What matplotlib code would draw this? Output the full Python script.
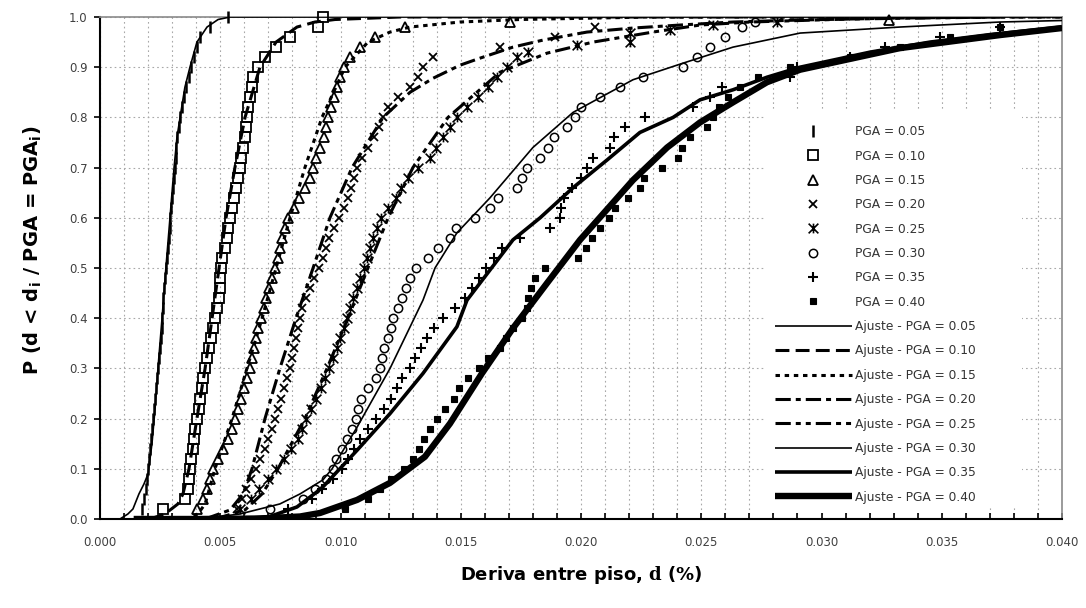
import matplotlib
matplotlib.use("Agg")
import matplotlib.pyplot as plt
from matplotlib.path import Path
from matplotlib.patches import Rectangle
from matplotlib.ticker import MultipleLocator, FormatStrFormatter

plt.rcParams['font.family'] = ['DejaVu Sans']
plt.rcParams['mathtext.fontset'] = 'custom'
plt.rcParams['mathtext.rm'] = 'DejaVu Sans:bold'
plt.rcParams['mathtext.bf'] = 'DejaVu Serif:bold'
plt.rcParams['lines.scale_dashes'] = False

# ---------------------------------------------------------------- data
# cumulative probability levels shared by the empirical samples
Y_STEP = [0.02, 0.04, 0.06, 0.08, 0.10, 0.12, 0.14, 0.16, 0.18, 0.20,
          0.22, 0.24, 0.26, 0.28, 0.30, 0.32, 0.34, 0.36, 0.38, 0.40,
          0.42, 0.44, 0.46, 0.48, 0.50, 0.52, 0.54, 0.56, 0.58, 0.60,
          0.62, 0.64, 0.66, 0.68, 0.70, 0.72, 0.74, 0.76, 0.78, 0.80,
          0.82, 0.84, 0.86, 0.88, 0.90, 0.92, 0.94, 0.96, 0.98, 1.00]

pga_labels = ["0.05", "0.10", "0.15", "0.20", "0.25", "0.30", "0.35", "0.40"]

# empirical drift values (%) for each PGA level
pga05_x = [0.00175, 0.00183, 0.00191, 0.00195, 0.00200, 0.00204, 0.00208, 0.00210, 0.00216, 0.00220,
           0.00225, 0.00229, 0.00233, 0.00237, 0.00241, 0.00245, 0.00249, 0.00254, 0.00256, 0.00258,
           0.00260, 0.00262, 0.00266, 0.00270, 0.00274, 0.00279, 0.00283, 0.00285, 0.00289, 0.00291,
           0.00295, 0.00299, 0.00304, 0.00306, 0.00310, 0.00314, 0.00318, 0.00322, 0.00328, 0.00333,
           0.00341, 0.00349, 0.00358, 0.00370, 0.00378, 0.00391, 0.00403, 0.00416, 0.00457, 0.00532]
pga05_y = Y_STEP

pga10_x = [0.00262, 0.00353, 0.00366, 0.00370, 0.00374, 0.00378, 0.00385, 0.00391, 0.00397, 0.00403,
           0.00410, 0.00416, 0.00424, 0.00430, 0.00437, 0.00445, 0.00453, 0.00462, 0.00470, 0.00478,
           0.00486, 0.00493, 0.00497, 0.00501, 0.00505, 0.00509, 0.00518, 0.00526, 0.00532, 0.00541,
           0.00549, 0.00557, 0.00565, 0.00574, 0.00582, 0.00588, 0.00595, 0.00601, 0.00607, 0.00611,
           0.00617, 0.00624, 0.00630, 0.00636, 0.00657, 0.00686, 0.00732, 0.00790, 0.00906, 0.00927]
pga10_y = Y_STEP

pga15_x = [0.00403, 0.00428, 0.00445, 0.00457, 0.00470, 0.00491, 0.00511, 0.00532, 0.00549, 0.00561,
           0.00574, 0.00586, 0.00599, 0.00611, 0.00624, 0.00632, 0.00640, 0.00649, 0.00657, 0.00669,
           0.00682, 0.00690, 0.00703, 0.00715, 0.00728, 0.00740, 0.00748, 0.00757, 0.00769, 0.00782,
           0.00807, 0.00827, 0.00852, 0.00873, 0.00886, 0.00898, 0.00915, 0.00931, 0.00940, 0.00948,
           0.00960, 0.00973, 0.00985, 0.00998, 0.01015, 0.01040, 0.01081, 0.01143, 0.01268,
           0.01705, 0.03281]
pga15_y = Y_STEP[:49] + [0.990, 0.995]

pga20_x = [0.00570, 0.00590, 0.00607, 0.00628, 0.00649, 0.00665, 0.00686, 0.00699, 0.00715, 0.00728,
           0.00740, 0.00753, 0.00765, 0.00778, 0.00790, 0.00798, 0.00807, 0.00815, 0.00823, 0.00832,
           0.00840, 0.00857, 0.00873, 0.00890, 0.00911, 0.00927, 0.00940, 0.00952, 0.00973, 0.00994,
           0.01015, 0.01031, 0.01044, 0.01056, 0.01069, 0.01089, 0.01114, 0.01139, 0.01160, 0.01177,
           0.01198, 0.01239, 0.01289, 0.01322, 0.01343, 0.01385, 0.01663, 0.01892, 0.02058]
pga20_y = Y_STEP[:49]

pga25_x = [0.00582, 0.00628, 0.00661, 0.00699, 0.00732, 0.00765, 0.00794, 0.00823, 0.00840, 0.00857,
           0.00877, 0.00898, 0.00919, 0.00936, 0.00952, 0.00969, 0.00985, 0.00998, 0.01015, 0.01027,
           0.01040, 0.01052, 0.01069, 0.01081, 0.01098, 0.01110, 0.01123, 0.01135, 0.01152, 0.01168,
           0.01198, 0.01231, 0.01252, 0.01281, 0.01322, 0.01372, 0.01397, 0.01426, 0.01455, 0.01484,
           0.01526, 0.01572, 0.01613, 0.01651, 0.01692, 0.01734,
           0.01780, 0.01983, 0.02204, 0.02204, 0.02370, 0.02549, 0.02815]
pga25_y = Y_STEP[:46] + [0.930, 0.944, 0.950, 0.968, 0.974, 0.984, 0.990]

pga30_x = [0.00707, 0.00844, 0.00894, 0.00940, 0.00969, 0.00981, 0.01006, 0.01027, 0.01048, 0.01064,
           0.01073, 0.01085, 0.01114, 0.01148, 0.01164, 0.01173, 0.01181, 0.01198, 0.01210, 0.01218,
           0.01239, 0.01256, 0.01272, 0.01289, 0.01314, 0.01364, 0.01405, 0.01455, 0.01480, 0.01559,
           0.01622, 0.01655, 0.01734, 0.01755, 0.01775, 0.01830, 0.01863, 0.01888, 0.01942, 0.01975,
           0.02000, 0.02079, 0.02162, 0.02258, 0.02424, 0.02482, 0.02536, 0.02599, 0.02669, 0.02723]
pga30_y = Y_STEP[:49] + [0.990]

pga35_x = [0.00782, 0.00881, 0.00923, 0.00969, 0.01006, 0.01031, 0.01056, 0.01081, 0.01114, 0.01148,
           0.01181, 0.01210, 0.01235, 0.01256, 0.01289, 0.01310, 0.01335, 0.01360, 0.01389, 0.01426,
           0.01476, 0.01518, 0.01547, 0.01576, 0.01605, 0.01638, 0.01672, 0.01746, 0.01871, 0.01913,
           0.01917, 0.01929, 0.01963, 0.02000, 0.02025, 0.02050, 0.02121, 0.02137, 0.02183, 0.02266,
           0.02466, 0.02536, 0.02586, 0.02869, 0.02898, 0.03119, 0.03264, 0.03493, 0.03742]
pga35_y = Y_STEP[:49]

pga40_x = [0.01019, 0.01114, 0.01164, 0.01210, 0.01264, 0.01301, 0.01326, 0.01347, 0.01372, 0.01401,
           0.01435, 0.01472, 0.01493, 0.01530, 0.01576, 0.01613, 0.01663, 0.01688, 0.01717, 0.01755,
           0.01775, 0.01780, 0.01792, 0.01809, 0.01850, 0.01988, 0.02021, 0.02046, 0.02079, 0.02116,
           0.02141, 0.02195, 0.02245, 0.02262, 0.02337, 0.02403, 0.02420, 0.02453, 0.02524, 0.02549,
           0.02574, 0.02611, 0.02661, 0.02736, 0.02869, 0.03119, 0.03326, 0.03534, 0.03742]
pga40_y = Y_STEP[:49]

# fitted (lognormal) fragility curves
fit05_x = [0.00083, 0.00116, 0.00137, 0.00162, 0.00183, 0.00200, 0.00216, 0.00229, 0.00241, 0.00258,
           0.00274, 0.00291, 0.00308, 0.00320, 0.00333, 0.00353, 0.00374, 0.00403, 0.00445, 0.00491,
           0.00541, 0.04000]
fit05_y = [0.0, 0.01, 0.02, 0.05, 0.07, 0.09, 0.15, 0.22, 0.30, 0.40,
           0.50, 0.60, 0.70, 0.76, 0.80, 0.86, 0.90, 0.95, 0.98, 0.995,
           1.0, 1.0]

fit10_x = [0.00208, 0.00270, 0.00324, 0.00345, 0.00370, 0.00403, 0.00437, 0.00466, 0.00495, 0.00524,
           0.00561, 0.00603, 0.00665, 0.00732, 0.00819, 0.00894, 0.00977, 0.01247, 0.04000]
fit10_y = [0.0, 0.01, 0.03, 0.05, 0.10, 0.20, 0.30, 0.40, 0.50, 0.60,
           0.70, 0.80, 0.90, 0.95, 0.98, 0.99, 0.995, 1.0, 1.0]

fit15_x = [0.00353, 0.00407, 0.00437, 0.00449, 0.00478, 0.00549, 0.00611, 0.00674, 0.00732, 0.00790,
           0.00852, 0.00923, 0.01019, 0.01114, 0.01206, 0.01289, 0.01497, 0.01746, 0.02287, 0.04000]
fit15_y = [0.0, 0.01, 0.03, 0.05, 0.10, 0.20, 0.30, 0.40, 0.50, 0.60,
           0.70, 0.80, 0.90, 0.95, 0.97, 0.98, 0.99, 0.995, 1.0, 1.0]

fit20_x = [0.00437, 0.00541, 0.00595, 0.00632, 0.00686, 0.00748, 0.00815, 0.00886, 0.00956, 0.01048,
           0.01177, 0.01289, 0.01385, 0.01497, 0.01580, 0.01717, 0.01842, 0.02025, 0.02216, 0.02412,
           0.02632, 0.02911, 0.03326, 0.03742]
fit20_y = [0.0, 0.018, 0.05, 0.10, 0.20, 0.30, 0.40, 0.50, 0.60, 0.70,
           0.80, 0.85, 0.878, 0.904, 0.918, 0.94, 0.954, 0.97, 0.978, 0.984,
           0.99, 0.994, 0.998, 1.0]

fit25_x = [0.00478, 0.00603, 0.00674, 0.00740, 0.00852, 0.00944, 0.01031, 0.01114, 0.01198, 0.01301,
           0.01447, 0.01663, 0.01859, 0.02050, 0.02299, 0.02495, 0.02703, 0.03119, 0.03742]
fit25_y = [0.0, 0.018, 0.05, 0.10, 0.20, 0.30, 0.40, 0.50, 0.60, 0.70,
           0.80, 0.89, 0.928, 0.95, 0.97, 0.984, 0.99, 0.996, 1.0]

fit30_x = [0.00416, 0.00582, 0.00748, 0.00832, 0.00927, 0.00965, 0.01069, 0.01206, 0.01343, 0.01393,
           0.01484, 0.01622, 0.01800, 0.01967, 0.02216, 0.02424, 0.02632, 0.02911, 0.03326, 0.03742,
           0.04000]
fit30_y = [0.0, 0.01, 0.03, 0.05, 0.078, 0.10, 0.183, 0.30, 0.436, 0.50,
           0.57, 0.64, 0.74, 0.81, 0.875, 0.908, 0.94, 0.968, 0.98, 0.99,
           0.993]

fit35_x = [0.00582, 0.00707, 0.00819, 0.00902, 0.00927, 0.01069, 0.01206, 0.01343, 0.01484, 0.01526,
           0.01717, 0.01830, 0.01967, 0.02108, 0.02245, 0.02383, 0.02495, 0.02632, 0.02773, 0.02911,
           0.03202, 0.03451, 0.03701, 0.04000]
fit35_y = [0.0, 0.005, 0.024, 0.054, 0.064, 0.137, 0.21, 0.29, 0.383, 0.436,
           0.556, 0.60, 0.66, 0.715, 0.77, 0.80, 0.835, 0.855, 0.88, 0.90,
           0.93, 0.95, 0.965, 0.98]

fit40_x = [0.00140, 0.00416, 0.00665, 0.00832, 0.00915, 0.01069, 0.01206, 0.01351, 0.01455, 0.01588,
           0.01717, 0.01859, 0.01996, 0.02216, 0.02358, 0.02495, 0.02632, 0.02773, 0.02911, 0.03326,
           0.03742, 0.04000]
fit40_y = [0.0, 0.0, 0.001, 0.005, 0.012, 0.038, 0.072, 0.124, 0.19, 0.29,
           0.38, 0.47, 0.556, 0.675, 0.74, 0.79, 0.83, 0.87, 0.895, 0.938,
           0.964, 0.978]

# ---------------------------------------------------------------- styles
asterisk = Path([(0, -1), (0, 1), (-1, -1), (1, 1), (-1, 1), (1, -1)],
                [Path.MOVETO, Path.LINETO] * 3)

marker_styles = [
    dict(marker='|', ms=9, mew=1.8, mfc='black'),
    dict(marker='s', ms=7, mew=1.3, mfc='none'),
    dict(marker='^', ms=7, mew=1.3, mfc='none'),
    dict(marker='x', ms=6, mew=1.3, mfc='none'),
    dict(marker=asterisk, ms=7, mew=1.2, mfc='none'),
    dict(marker='o', ms=6, mew=1.1, mfc='none'),
    dict(marker='+', ms=7.5, mew=1.5, mfc='none'),
    dict(marker='s', ms=4.5, mew=0.8, mfc='black'),
]

fit_styles = [
    dict(lw=1.2, ls='-'),
    dict(lw=2.2, dashes=(10, 4.5)),
    dict(lw=2.2, dashes=(3.2, 3.4)),
    dict(lw=2.2, dashes=(11, 3.6, 3.6, 3.6)),
    dict(lw=2.2, dashes=(11, 3.6, 3.6, 3.6, 3.6, 3.6)),
    dict(lw=1.2, ls='-'),
    dict(lw=2.6, ls='-'),
    dict(lw=4.6, ls='-'),
]

emp_x = [pga05_x, pga10_x, pga15_x, pga20_x, pga25_x, pga30_x, pga35_x, pga40_x]
emp_y = [pga05_y, pga10_y, pga15_y, pga20_y, pga25_y, pga30_y, pga35_y, pga40_y]
fit_x = [fit05_x, fit10_x, fit15_x, fit20_x, fit25_x, fit30_x, fit35_x, fit40_x]
fit_y = [fit05_y, fit10_y, fit15_y, fit20_y, fit25_y, fit30_y, fit35_y, fit40_y]

# ---------------------------------------------------------------- figure
fig = plt.figure(figsize=(10.86, 6.08), dpi=100)
ax = fig.add_axes([100 / 1086, 1 - 519 / 608, 962 / 1086, 502 / 608])

handles, labels = [], []
for xs, ys, st, lab in zip(emp_x, emp_y, marker_styles, pga_labels):
    h, = ax.plot(xs, ys, ls='none', color='black', mec='black', zorder=3,
                 clip_on=False, **st)
    handles.append(h)
    labels.append(f"PGA = {lab}")
for xs, ys, st, lab in zip(fit_x, fit_y, fit_styles, pga_labels):
    h, = ax.plot(xs, ys, color='black', zorder=4, solid_capstyle='butt', **st)
    handles.append(h)
    labels.append(f"Ajuste - PGA = {lab}")

ax.set_xlim(0, 0.040)
ax.set_ylim(0, 1.0)
ax.xaxis.set_major_locator(MultipleLocator(0.005))
ax.xaxis.set_minor_locator(MultipleLocator(0.001))
ax.yaxis.set_major_locator(MultipleLocator(0.1))
ax.xaxis.set_major_formatter(FormatStrFormatter('%.3f'))
ax.yaxis.set_major_formatter(FormatStrFormatter('%.1f'))

grid_kw = dict(color='#a8a8a8', lw=0.8, ls=(0, (1.2, 2.2)))
ax.grid(which='major', axis='x', **grid_kw)
ax.grid(which='minor', axis='x', **grid_kw)
ax.grid(which='major', axis='y', **grid_kw)
ax.set_axisbelow(True)

# white panel behind the legend that hides the grid
ax.add_patch(Rectangle((0.691, 0.022), 0.267, 0.793, transform=ax.transAxes,
                       facecolor='white', edgecolor='none', zorder=2))

ax.tick_params(axis='x', which='both', direction='in', length=4, width=1.2,
               pad=12, labelsize=8.5, labelcolor='#404040')
ax.tick_params(axis='y', which='major', direction='out', length=4, width=1.2,
               pad=5, labelsize=8.5, labelcolor='#404040')

for side in ('left', 'bottom'):
    ax.spines[side].set_linewidth(1.5)
    ax.spines[side].set_color('black')
for side in ('top', 'right'):
    ax.spines[side].set_linewidth(1.2)
    ax.spines[side].set_color('#8a8a8a')

fig.text(581 / 1086, 1 - 575 / 608, r"Deriva entre piso, $\mathbf{d}$ (%)",
         ha='center', va='center', fontsize=13, fontweight='bold')
fig.text(33 / 1086, 1 - 250 / 608,
         r"P (d < d$_\mathrm{i}$ / PGA = PGA$_\mathrm{i}$)",
         ha='center', va='center', rotation=90, fontsize=14, fontweight='bold')

leg = ax.legend(handles, labels, loc='upper left', bbox_to_anchor=(0.691, 0.804),
                frameon=True, fancybox=False, edgecolor='none', facecolor='white',
                framealpha=1, fontsize=8.8, handlelength=6.3, handletextpad=0.25,
                labelspacing=0.93, borderpad=0.8, borderaxespad=0, numpoints=1)
leg.set_zorder(6)
for t in leg.get_texts():
    t.set_color('#333333')

fig.savefig('out.png', dpi=100)
